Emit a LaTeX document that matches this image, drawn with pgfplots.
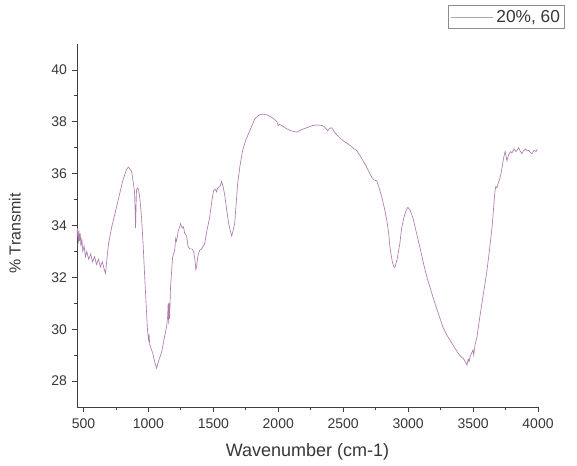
\documentclass[border=0pt]{standalone}
\usepackage{fontspec}
\setmainfont{Liberation Sans}
\usepackage{pgfplots}
\pgfplotsset{compat=1.18}
\definecolor{spec}{RGB}{175,125,175}
\definecolor{txt}{RGB}{55,55,55}
\begin{document}
\begin{tikzpicture}
\begin{axis}[
  scale only axis,
  width=345.75pt, height=272.25pt,
  xmin=450, xmax=4000, ymin=27, ymax=41,
  axis lines=left, axis line style={-, black!75, line width=0.6pt},
  xtick={500,1000,...,4000}, ytick={28,30,...,40},
  minor x tick num=1, minor y tick num=1,
  tick align=outside, major tick length=4pt, minor tick length=2.5pt,
  tick style={black!75, line width=0.6pt},
  /pgf/number format/assume math mode=true,
  /pgf/number format/1000 sep={},
  ticklabel style={font=\fontsize{10.5}{12}\selectfont, text=txt},
  xticklabel style={yshift=-1.5pt},
  xlabel={Wavenumber (cm-1)}, ylabel={\% Transmit},
  xlabel style={font=\fontsize{13.5}{15}\selectfont, text=txt, at={(axis description cs:0.5,0)}, anchor=north, yshift=-24pt},
  ylabel style={font=\fontsize{12}{14}\selectfont, text=txt, at={(axis description cs:0,0.5)}, anchor=center, yshift=46.5pt, xshift=-6pt},
  legend style={at={(1,1)}, anchor=north east, xshift=20.25pt, yshift=29.25pt,
    draw=black!45, line width=0.5pt, font=\fontsize{13}{15}\selectfont, text=txt,
    inner sep=1.5pt, legend cell align=left},
  legend image code/.code={\draw[#1, black!35] (0pt,0pt) -- (32pt,0pt);},
  clip=false,
]
\addplot[spec, line width=0.5pt] coordinates {
(450,33.6)(455,33.9)(460,33.3)(465,33.8)(470,33.4)(475,33.7)(480,33.2)(487,33.5)
(495,33.0)(505,33.2)(515,32.8)(525,33.0)(540,32.7)(555,32.9)(570,32.6)(585,32.8)
(600,32.5)(615,32.7)(630,32.4)(645,32.6)(660,32.3)(670,32.15)(680,32.7)(693,33.3)
(720,34.0)(754,34.7)(801,35.7)(830,36.15)(845,36.25)(870,36.1)(885,35.6)(893,35.3)
(898,34.5)(901,33.9)(905,34.8)(908,35.35)(915,35.45)(924,35.4)(935,35.0)(947,34.3)
(960,33.2)(970,32.15)(982,31.0)(993,29.96)(1001,29.6)(1005,29.8)(1010,29.4)(1032,29.1)
(1050,28.7)(1063,28.5)(1080,28.8)(1101,29.1)(1120,29.6)(1140,30.1)(1148,30.5)(1152,31.0)
(1156,30.2)(1160,31.0)(1163,30.4)(1170,31.6)(1186,32.77)(1202,33.04)(1210,33.5)(1217,33.4)
(1230,33.8)(1248,34.07)(1260,33.9)(1270,33.95)(1279,33.7)(1294,33.6)(1305,33.2)(1317,33.1)
(1335,33.1)(1348,33.0)(1360,32.6)(1365,32.3)(1371,32.4)(1380,32.8)(1394,33.04)(1410,33.1)
(1433,33.3)(1450,33.8)(1471,34.3)(1490,35.0)(1502,35.35)(1515,35.4)(1525,35.3)(1533,35.45)
(1550,35.5)(1564,35.7)(1575,35.5)(1587,35.2)(1600,34.7)(1618,34.07)(1630,33.8)(1641,33.6)
(1652,33.8)(1664,34.07)(1675,34.8)(1687,35.6)(1705,36.3)(1726,36.9)(1750,37.3)(1780,37.65)
(1818,38.1)(1850,38.25)(1880,38.3)(1920,38.25)(1957,38.15)(1990,38.0)(2000,37.85)(2010,37.9)
(2027,37.85)(2045,37.8)(2065,37.73)(2100,37.65)(2142,37.6)(2180,37.7)(2219,37.77)(2260,37.85)
(2296,37.88)(2343,37.85)(2365,37.75)(2381,37.65)(2395,37.75)(2412,37.77)(2440,37.55)(2474,37.38)
(2505,37.25)(2536,37.15)(2570,37.02)(2605,36.88)(2635,36.65)(2667,36.38)(2695,36.1)(2720,35.85)
(2740,35.75)(2759,35.73)(2780,35.4)(2798,35.08)(2818,34.65)(2836,34.2)(2850,33.7)(2860,33.15)
(2878,32.6)(2890,32.4)(2898,32.38)(2915,32.7)(2936,33.3)(2950,33.9)(2967,34.3)(2985,34.6)
(2998,34.7)(3015,34.6)(3037,34.3)(3060,33.8)(3091,33.15)(3120,32.5)(3145,32.0)(3175,31.5)
(3206,31.0)(3240,30.5)(3268,30.08)(3295,29.8)(3322,29.58)(3350,29.35)(3384,29.08)(3405,28.95)
(3422,28.88)(3435,28.8)(3445,28.7)(3453,28.62)(3462,28.85)(3470,28.75)(3476,28.92)(3490,29.1)
(3499,29.2)(3505,29.0)(3515,29.4)(3530,29.7)(3550,30.4)(3568,31.0)(3590,31.7)(3607,32.27)
(3625,33.0)(3646,33.92)(3660,34.8)(3669,35.35)(3675,35.5)(3683,35.45)(3692,35.6)(3705,35.8)
(3715,36.0)(3723,36.23)(3735,36.6)(3746,36.85)(3753,36.7)(3761,36.5)(3775,36.75)(3790,36.85)
(3800,36.8)(3815,36.95)(3830,36.85)(3838,36.9)(3850,37.0)(3865,36.85)(3877,36.77)(3890,36.9)
(3905,36.95)(3915,36.88)(3930,36.9)(3945,36.8)(3954,36.77)(3970,36.9)(3985,36.85)(3995,36.95)
};
\addlegendentry{20\%, 60}
\coordinate (sw) at (rel axis cs:0,0);
\coordinate (ne) at (rel axis cs:1,1);
\end{axis}
\pgfresetboundingbox
\path ([shift={(-57.75pt,-43.5pt)}]sw) rectangle ([shift={(29.25pt,33pt)}]ne);
\end{tikzpicture}
\end{document}
